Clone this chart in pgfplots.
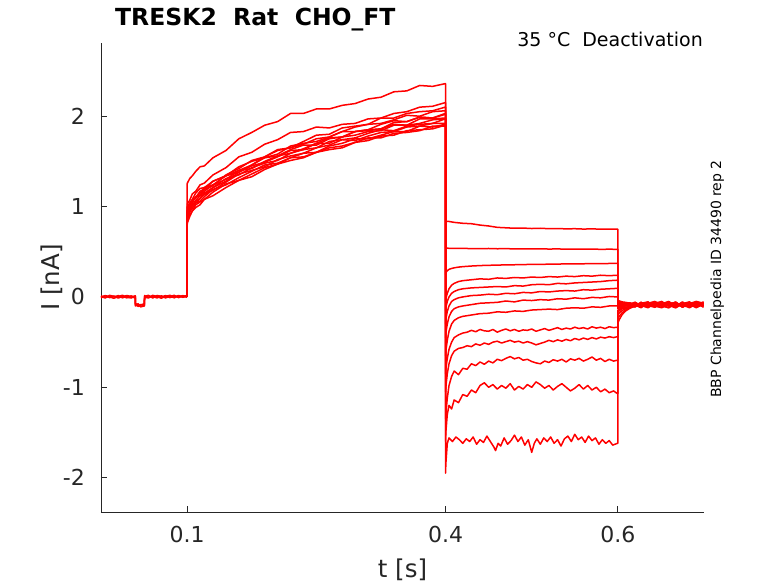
\documentclass[border=0pt]{standalone}
\usepackage{fontspec}
\setmainfont{DejaVu Sans}
\usepackage{pgfplots}
\pgfplotsset{compat=1.18}
\definecolor{axc}{RGB}{38,38,38}
\pgfplotsset{tr/.style={color=red, line width=1.5pt, line join=round, mark=none}}
\begin{document}
\begin{tikzpicture}
\path[use as bounding box] (-101pt,-71pt) rectangle (677pt,512pt);
\begin{axis}[
  at={(0pt,0pt)}, anchor=south west, scale only axis,
  width=603pt, height=469pt,
  xmin=0, xmax=0.7, ymin=-2.38, ymax=2.81,
  axis x line*=bottom, axis y line*=left,
  axis line style={color=axc, line width=0.8pt},
  tick style={color=axc, line width=0.8pt},
  tick align=inside, major tick length=6pt,
  xtick={0.1,0.4,0.6}, xticklabels={0.1,0.4,0.6},
  ytick={-2,-1,0,1,2}, yticklabels={-2,-1,0,1,2},
  minor tick num=0,
  xticklabel style={font=\fontsize{22}{26}\selectfont, text=axc, inner sep=0pt, yshift=-13.7pt},
  yticklabel style={font=\fontsize{22}{26}\selectfont, text=axc, inner sep=0pt, xshift=-16pt},
  xlabel={t [s]}, ylabel={I [nA]},
  xlabel style={font=\fontsize{24.5}{28}\selectfont, text=axc, inner sep=0pt, at={(axis description cs:0.5,-0.1397)}, anchor=base},
  ylabel style={font=\fontsize{24.5}{28}\selectfont, text=axc, inner sep=0pt, at={(axis description cs:-0.0692,0.5)}, anchor=base},
]
% baseline (holding) segments
\addplot[tr] coordinates {(0,0.01)(0.005,-0.005)(0.01,0.012)(0.015,0.0)(0.02,0.015)(0.025,-0.01)(0.03,0.008)(0.035,0.0)(0.0398,0.01)(0.040,-0.08)(0.043,-0.095)(0.046,-0.085)(0.0503,-0.09)(0.0506,0.0)(0.055,0.012)(0.06,-0.005)(0.065,0.01)(0.07,0.0)(0.075,0.015)(0.08,-0.008)(0.085,0.01)(0.09,0.002)(0.095,0.014)(0.1,0.005)};
\addplot[tr] coordinates {(0,-0.01)(0.005,0.012)(0.01,-0.008)(0.015,0.01)(0.02,-0.012)(0.025,0.006)(0.03,-0.01)(0.035,0.012)(0.0398,-0.005)(0.040,-0.1)(0.043,-0.085)(0.046,-0.105)(0.0503,-0.095)(0.0506,-0.01)(0.055,-0.006)(0.06,0.01)(0.065,-0.012)(0.07,0.012)(0.075,-0.006)(0.08,0.01)(0.085,-0.01)(0.09,0.012)(0.095,-0.004)(0.1,0.008)};
\addplot[tr] coordinates {(0,0.0)(0.005,0.015)(0.01,0.0)(0.015,-0.015)(0.02,0.005)(0.025,0.018)(0.03,-0.004)(0.035,-0.012)(0.0398,0.012)(0.040,-0.07)(0.043,-0.105)(0.046,-0.09)(0.0503,-0.075)(0.0506,0.015)(0.055,-0.012)(0.06,0.018)(0.065,0.004)(0.07,-0.014)(0.075,0.006)(0.08,0.018)(0.085,-0.004)(0.09,0.016)(0.095,0.0)(0.1,0.018)};
\addplot[tr] coordinates {(0,0.005)(0.005,-0.012)(0.01,0.018)(0.015,0.006)(0.02,-0.006)(0.025,0.0)(0.03,0.016)(0.035,0.004)(0.0398,-0.012)(0.040,-0.09)(0.043,-0.075)(0.046,-0.11)(0.0503,-0.1)(0.0506,0.005)(0.055,0.018)(0.06,-0.012)(0.065,0.016)(0.07,0.006)(0.075,-0.01)(0.08,0.004)(0.085,0.018)(0.09,-0.008)(0.095,0.01)(0.1,-0.004)};
% sweep 1
\addplot[tr] coordinates {(0.1,0)(0.1,1.25)(0.1003,1.26)(0.103,1.31)(0.106,1.34)(0.11,1.39)(0.115,1.44)(0.12,1.45)(0.13,1.54)(0.145,1.62)(0.16,1.75)(0.175,1.82)(0.19,1.90)(0.205,1.94)(0.22,2.03)(0.235,2.03)(0.25,2.08)(0.265,2.08)(0.28,2.12)(0.295,2.14)(0.31,2.19)(0.325,2.21)(0.34,2.27)(0.355,2.28)(0.37,2.34)(0.385,2.33)(0.3995,2.36)(0.4,2.36)
(0.4,0.84)(0.4003,0.84)(0.402,0.835)(0.404,0.835)(0.407,0.83)(0.41,0.825)(0.415,0.82)(0.42,0.815)(0.43,0.81)(0.44,0.795)(0.45,0.785)(0.46,0.77)(0.47,0.765)(0.48,0.76)(0.49,0.762)(0.50,0.757)(0.51,0.76)(0.52,0.755)(0.53,0.757)(0.54,0.753)(0.55,0.755)(0.56,0.751)(0.57,0.753)(0.58,0.75)(0.59,0.749)(0.5995,0.75)(0.6,0.75)
(0.6,-0.04)(0.6003,-0.04)(0.602,-0.045)(0.605,-0.055)(0.609,-0.06)(0.614,-0.07)(0.62,-0.1)(0.627,-0.06)(0.635,-0.11)(0.643,-0.07)(0.651,-0.05)(0.659,-0.1)(0.667,-0.065)(0.675,-0.11)(0.683,-0.06)(0.691,-0.09)(0.6995,-0.055)};
% sweep 2
\addplot[tr] coordinates {(0.1,0)(0.1,0.98)(0.1003,1.03)(0.103,1.07)(0.106,1.14)(0.11,1.17)(0.115,1.24)(0.12,1.26)(0.13,1.35)(0.145,1.43)(0.16,1.55)(0.175,1.60)(0.19,1.69)(0.205,1.74)(0.22,1.82)(0.235,1.83)(0.25,1.88)(0.265,1.87)(0.28,1.91)(0.295,1.92)(0.31,1.97)(0.325,1.98)(0.34,2.03)(0.355,2.05)(0.37,2.10)(0.385,2.11)(0.3995,2.15)(0.4,2.15)
(0.4,0.545)(0.4003,0.54)(0.402,0.54)(0.404,0.538)(0.407,0.538)(0.41,0.537)(0.415,0.536)(0.42,0.537)(0.43,0.535)(0.44,0.534)(0.45,0.536)(0.46,0.533)(0.47,0.534)(0.48,0.532)(0.49,0.533)(0.50,0.531)(0.51,0.532)(0.52,0.53)(0.53,0.531)(0.54,0.529)(0.55,0.53)(0.56,0.528)(0.57,0.529)(0.58,0.527)(0.59,0.528)(0.5995,0.527)(0.6,0.527)
(0.6,-0.05)(0.6003,-0.05)(0.602,-0.06)(0.605,-0.06)(0.609,-0.075)(0.614,-0.065)(0.62,-0.09)(0.627,-0.12)(0.635,-0.06)(0.643,-0.1)(0.651,-0.075)(0.659,-0.05)(0.667,-0.1)(0.675,-0.06)(0.683,-0.11)(0.691,-0.07)(0.6995,-0.085)};
% sweep 3
\addplot[tr] coordinates {(0.1,0)(0.1,0.90)(0.1003,0.95)(0.103,0.99)(0.106,1.07)(0.11,1.10)(0.115,1.13)(0.12,1.19)(0.13,1.23)(0.145,1.35)(0.16,1.42)(0.175,1.51)(0.19,1.55)(0.205,1.63)(0.22,1.65)(0.235,1.72)(0.25,1.79)(0.265,1.80)(0.28,1.87)(0.295,1.89)(0.31,1.91)(0.325,1.98)(0.34,1.98)(0.355,2.03)(0.37,2.05)(0.385,2.06)(0.3995,2.10)(0.4,2.10)
(0.4,0.25)(0.4003,0.27)(0.402,0.29)(0.404,0.305)(0.407,0.315)(0.41,0.322)(0.415,0.33)(0.42,0.335)(0.43,0.342)(0.44,0.347)(0.45,0.35)(0.46,0.352)(0.47,0.355)(0.48,0.356)(0.49,0.358)(0.50,0.36)(0.51,0.361)(0.52,0.362)(0.53,0.364)(0.54,0.365)(0.55,0.366)(0.56,0.367)(0.57,0.368)(0.58,0.369)(0.59,0.37)(0.5995,0.37)(0.6,0.37)
(0.6,-0.06)(0.6003,-0.06)(0.602,-0.065)(0.605,-0.07)(0.609,-0.08)(0.614,-0.1)(0.62,-0.06)(0.627,-0.095)(0.635,-0.12)(0.643,-0.07)(0.651,-0.1)(0.659,-0.06)(0.667,-0.115)(0.675,-0.075)(0.683,-0.055)(0.691,-0.1)(0.6995,-0.08)};
% sweep 4
\addplot[tr] coordinates {(0.1,0)(0.1,0.92)(0.1003,0.95)(0.103,1.03)(0.106,1.07)(0.11,1.10)(0.115,1.17)(0.12,1.19)(0.13,1.28)(0.145,1.34)(0.16,1.40)(0.175,1.46)(0.19,1.55)(0.205,1.62)(0.22,1.65)(0.235,1.69)(0.25,1.75)(0.265,1.77)(0.28,1.83)(0.295,1.88)(0.31,1.91)(0.325,1.92)(0.34,1.96)(0.355,2.01)(0.37,2.00)(0.385,2.05)(0.3995,2.06)(0.4,2.06)
(0.4,-0.05)(0.4003,-0.02)(0.402,0.04)(0.404,0.09)(0.407,0.13)(0.41,0.15)(0.415,0.17)(0.42,0.18)(0.43,0.19)(0.44,0.20)(0.45,0.195)(0.46,0.21)(0.47,0.205)(0.48,0.215)(0.49,0.21)(0.50,0.22)(0.51,0.215)(0.52,0.225)(0.53,0.22)(0.54,0.23)(0.55,0.225)(0.56,0.235)(0.57,0.23)(0.58,0.24)(0.59,0.235)(0.5995,0.24)(0.6,0.24)
(0.6,-0.07)(0.6003,-0.07)(0.602,-0.075)(0.605,-0.08)(0.609,-0.085)(0.614,-0.09)(0.62,-0.11)(0.627,-0.07)(0.635,-0.055)(0.643,-0.1)(0.651,-0.12)(0.659,-0.08)(0.667,-0.06)(0.675,-0.11)(0.683,-0.075)(0.691,-0.05)(0.6995,-0.07)};
% sweep 5
\addplot[tr] coordinates {(0.1,0)(0.1,0.94)(0.1003,0.99)(0.103,1.04)(0.106,1.08)(0.11,1.15)(0.115,1.20)(0.12,1.21)(0.13,1.28)(0.145,1.34)(0.16,1.44)(0.175,1.50)(0.19,1.54)(0.205,1.58)(0.22,1.67)(0.235,1.70)(0.25,1.72)(0.265,1.77)(0.28,1.83)(0.295,1.83)(0.31,1.85)(0.325,1.91)(0.34,1.95)(0.355,1.94)(0.37,1.99)(0.385,1.98)(0.3995,2.03)(0.4,2.03)
(0.4,-0.15)(0.4003,-0.12)(0.402,-0.05)(0.404,0.0)(0.407,0.04)(0.41,0.06)(0.415,0.08)(0.42,0.09)(0.43,0.10)(0.44,0.105)(0.45,0.11)(0.46,0.115)(0.47,0.11)(0.48,0.125)(0.49,0.12)(0.50,0.135)(0.51,0.14)(0.52,0.135)(0.53,0.15)(0.54,0.145)(0.55,0.155)(0.56,0.16)(0.57,0.165)(0.58,0.17)(0.59,0.18)(0.5995,0.185)(0.6,0.185)
(0.6,-0.08)(0.6003,-0.08)(0.602,-0.085)(0.605,-0.08)(0.609,-0.095)(0.614,-0.075)(0.62,-0.06)(0.627,-0.1)(0.635,-0.07)(0.643,-0.05)(0.651,-0.09)(0.659,-0.12)(0.667,-0.07)(0.675,-0.1)(0.683,-0.06)(0.691,-0.115)(0.6995,-0.085)};
% sweep 6
\addplot[tr] coordinates {(0.1,0)(0.1,0.91)(0.1003,0.94)(0.103,1.01)(0.106,1.07)(0.11,1.10)(0.115,1.15)(0.12,1.21)(0.13,1.24)(0.145,1.34)(0.16,1.38)(0.175,1.46)(0.19,1.54)(0.205,1.56)(0.22,1.63)(0.235,1.68)(0.25,1.68)(0.265,1.75)(0.28,1.77)(0.295,1.83)(0.31,1.84)(0.325,1.86)(0.34,1.91)(0.355,1.90)(0.37,1.97)(0.385,1.97)(0.3995,1.98)(0.4,1.98)
(0.4,-0.3)(0.4003,-0.25)(0.402,-0.16)(0.404,-0.1)(0.407,-0.05)(0.41,-0.03)(0.415,-0.01)(0.42,0.0)(0.43,0.015)(0.44,0.02)(0.45,0.03)(0.46,0.025)(0.47,0.04)(0.48,0.035)(0.49,0.05)(0.50,0.045)(0.51,0.06)(0.52,0.055)(0.53,0.065)(0.54,0.07)(0.55,0.065)(0.56,0.08)(0.57,0.075)(0.58,0.085)(0.59,0.09)(0.5995,0.095)(0.6,0.095)
(0.6,-0.1)(0.6003,-0.1)(0.602,-0.095)(0.605,-0.09)(0.609,-0.1)(0.614,-0.075)(0.62,-0.1)(0.627,-0.06)(0.635,-0.095)(0.643,-0.115)(0.651,-0.06)(0.659,-0.09)(0.667,-0.105)(0.675,-0.055)(0.683,-0.11)(0.691,-0.08)(0.6995,-0.06)};
% sweep 7
\addplot[tr] coordinates {(0.1,0)(0.1,0.89)(0.1003,0.94)(0.103,0.98)(0.106,1.04)(0.11,1.11)(0.115,1.12)(0.12,1.17)(0.13,1.24)(0.145,1.30)(0.16,1.40)(0.175,1.42)(0.19,1.50)(0.205,1.56)(0.22,1.59)(0.235,1.64)(0.25,1.70)(0.265,1.70)(0.28,1.77)(0.295,1.79)(0.31,1.83)(0.325,1.84)(0.34,1.90)(0.355,1.90)(0.37,1.92)(0.385,1.96)(0.3995,1.97)(0.4,1.97)
(0.4,-0.45)(0.4003,-0.4)(0.402,-0.3)(0.404,-0.22)(0.407,-0.16)(0.41,-0.13)(0.415,-0.11)(0.42,-0.10)(0.43,-0.085)(0.44,-0.07)(0.45,-0.065)(0.46,-0.06)(0.47,-0.045)(0.48,-0.055)(0.49,-0.035)(0.50,-0.04)(0.51,-0.03)(0.52,-0.035)(0.53,-0.02)(0.54,-0.025)(0.55,-0.01)(0.56,-0.02)(0.57,-0.005)(0.58,-0.01)(0.59,0.005)(0.5995,0.0)(0.6,0.0)
(0.6,-0.11)(0.6003,-0.11)(0.602,-0.105)(0.605,-0.1)(0.609,-0.09)(0.614,-0.1)(0.62,-0.07)(0.627,-0.11)(0.635,-0.08)(0.643,-0.06)(0.651,-0.1)(0.659,-0.07)(0.667,-0.12)(0.675,-0.08)(0.683,-0.095)(0.691,-0.055)(0.6995,-0.1)};
% sweep 8
\addplot[tr] coordinates {(0.1,0)(0.1,0.87)(0.1003,0.91)(0.103,0.98)(0.106,1.01)(0.11,1.07)(0.115,1.12)(0.12,1.13)(0.13,1.21)(0.145,1.31)(0.16,1.35)(0.175,1.43)(0.19,1.48)(0.205,1.51)(0.22,1.59)(0.235,1.63)(0.25,1.65)(0.265,1.72)(0.28,1.74)(0.295,1.76)(0.31,1.81)(0.325,1.85)(0.34,1.84)(0.355,1.89)(0.37,1.91)(0.385,1.92)(0.3995,1.97)(0.4,1.97)
(0.4,-0.65)(0.4003,-0.6)(0.402,-0.48)(0.404,-0.38)(0.407,-0.3)(0.41,-0.26)(0.415,-0.23)(0.42,-0.215)(0.43,-0.2)(0.44,-0.185)(0.45,-0.18)(0.46,-0.165)(0.47,-0.17)(0.48,-0.155)(0.49,-0.16)(0.50,-0.145)(0.51,-0.14)(0.52,-0.135)(0.53,-0.14)(0.54,-0.125)(0.55,-0.12)(0.56,-0.125)(0.57,-0.11)(0.58,-0.115)(0.59,-0.1)(0.5995,-0.1)(0.6,-0.1)
(0.6,-0.13)(0.6003,-0.13)(0.602,-0.12)(0.605,-0.11)(0.609,-0.1)(0.614,-0.085)(0.62,-0.11)(0.627,-0.075)(0.635,-0.06)(0.643,-0.105)(0.651,-0.07)(0.659,-0.1)(0.667,-0.055)(0.675,-0.11)(0.683,-0.08)(0.691,-0.12)(0.6995,-0.07)};
% sweep 9
\addplot[tr] coordinates {(0.1,0)(0.1,0.85)(0.1003,0.90)(0.103,0.95)(0.106,1.01)(0.11,1.04)(0.115,1.09)(0.12,1.14)(0.13,1.18)(0.145,1.27)(0.16,1.36)(0.175,1.40)(0.19,1.44)(0.205,1.52)(0.22,1.56)(0.235,1.59)(0.25,1.65)(0.265,1.68)(0.28,1.74)(0.295,1.73)(0.31,1.78)(0.325,1.82)(0.34,1.83)(0.355,1.88)(0.37,1.89)(0.385,1.92)(0.3995,1.92)(0.4,1.92)
(0.4,-0.85)(0.4003,-0.8)(0.402,-0.68)(0.404,-0.58)(0.407,-0.5)(0.41,-0.45)(0.415,-0.42)(0.42,-0.40)(0.425,-0.39)(0.43,-0.37)(0.435,-0.385)(0.44,-0.36)(0.445,-0.375)(0.45,-0.38)(0.455,-0.36)(0.46,-0.39)(0.465,-0.37)(0.47,-0.355)(0.475,-0.375)(0.48,-0.36)(0.485,-0.38)(0.49,-0.365)(0.495,-0.37)(0.50,-0.355)(0.505,-0.38)(0.51,-0.365)(0.515,-0.35)(0.52,-0.37)(0.525,-0.355)(0.53,-0.34)(0.535,-0.36)(0.54,-0.345)(0.545,-0.355)(0.55,-0.335)(0.555,-0.35)(0.56,-0.34)(0.565,-0.355)(0.57,-0.33)(0.575,-0.345)(0.58,-0.335)(0.585,-0.35)(0.59,-0.33)(0.595,-0.34)(0.5995,-0.335)(0.6,-0.335)
(0.6,-0.15)(0.6003,-0.145)(0.602,-0.135)(0.605,-0.12)(0.609,-0.115)(0.614,-0.1)(0.62,-0.075)(0.627,-0.105)(0.635,-0.065)(0.643,-0.1)(0.651,-0.115)(0.659,-0.06)(0.667,-0.09)(0.675,-0.07)(0.683,-0.12)(0.691,-0.08)(0.6995,-0.1)};
% sweep 10
\addplot[tr] coordinates {(0.1,0)(0.1,0.83)(0.1003,0.86)(0.103,0.94)(0.106,0.98)(0.11,1.04)(0.115,1.06)(0.12,1.11)(0.13,1.19)(0.145,1.24)(0.16,1.32)(0.175,1.39)(0.19,1.46)(0.205,1.48)(0.22,1.54)(0.235,1.59)(0.25,1.60)(0.265,1.67)(0.28,1.70)(0.295,1.75)(0.31,1.75)(0.325,1.79)(0.34,1.83)(0.355,1.83)(0.37,1.89)(0.385,1.88)(0.3995,1.91)(0.4,1.91)
(0.4,-1.05)(0.4003,-1.0)(0.402,-0.85)(0.404,-0.74)(0.407,-0.65)(0.41,-0.6)(0.415,-0.57)(0.42,-0.56)(0.425,-0.54)(0.43,-0.55)(0.435,-0.52)(0.44,-0.535)(0.445,-0.51)(0.45,-0.525)(0.455,-0.5)(0.46,-0.49)(0.465,-0.51)(0.47,-0.495)(0.475,-0.48)(0.48,-0.5)(0.485,-0.49)(0.49,-0.51)(0.495,-0.495)(0.50,-0.51)(0.505,-0.53)(0.51,-0.515)(0.515,-0.5)(0.52,-0.48)(0.525,-0.495)(0.53,-0.475)(0.535,-0.49)(0.54,-0.47)(0.545,-0.485)(0.55,-0.46)(0.555,-0.475)(0.56,-0.455)(0.565,-0.47)(0.57,-0.45)(0.575,-0.465)(0.58,-0.445)(0.585,-0.455)(0.59,-0.44)(0.595,-0.45)(0.5995,-0.44)(0.6,-0.44)
(0.6,-0.17)(0.6003,-0.165)(0.602,-0.15)(0.605,-0.13)(0.609,-0.12)(0.614,-0.1)(0.62,-0.1)(0.627,-0.07)(0.635,-0.105)(0.643,-0.08)(0.651,-0.1)(0.659,-0.12)(0.667,-0.065)(0.675,-0.1)(0.683,-0.06)(0.691,-0.11)(0.6995,-0.07)};
% sweep 11
\addplot[tr] coordinates {(0.1,0)(0.1,0.81)(0.1003,0.86)(0.103,0.91)(0.106,0.95)(0.11,1.02)(0.115,1.05)(0.12,1.08)(0.13,1.16)(0.145,1.25)(0.16,1.29)(0.175,1.36)(0.19,1.43)(0.205,1.47)(0.22,1.54)(0.235,1.55)(0.25,1.60)(0.265,1.65)(0.28,1.67)(0.295,1.71)(0.31,1.76)(0.325,1.76)(0.34,1.81)(0.355,1.82)(0.37,1.84)(0.385,1.89)(0.3995,1.89)(0.4,1.89)
(0.4,-1.35)(0.4003,-1.3)(0.402,-1.12)(0.404,-0.98)(0.407,-0.88)(0.41,-0.82)(0.415,-0.86)(0.42,-0.79)(0.425,-0.8)(0.43,-0.74)(0.435,-0.76)(0.44,-0.72)(0.445,-0.745)(0.45,-0.71)(0.455,-0.73)(0.46,-0.69)(0.465,-0.705)(0.47,-0.68)(0.475,-0.66)(0.48,-0.685)(0.485,-0.67)(0.49,-0.7)(0.495,-0.69)(0.50,-0.715)(0.505,-0.73)(0.51,-0.74)(0.515,-0.71)(0.52,-0.725)(0.525,-0.695)(0.53,-0.71)(0.535,-0.69)(0.54,-0.72)(0.545,-0.685)(0.55,-0.7)(0.555,-0.68)(0.56,-0.71)(0.565,-0.69)(0.57,-0.665)(0.575,-0.7)(0.58,-0.68)(0.585,-0.715)(0.59,-0.69)(0.595,-0.71)(0.5995,-0.7)(0.6,-0.7)
(0.6,-0.2)(0.6003,-0.195)(0.602,-0.175)(0.605,-0.15)(0.609,-0.13)(0.614,-0.115)(0.62,-0.085)(0.627,-0.11)(0.635,-0.075)(0.643,-0.105)(0.651,-0.06)(0.659,-0.095)(0.667,-0.12)(0.675,-0.07)(0.683,-0.1)(0.691,-0.065)(0.6995,-0.115)};
% sweep 12
\addplot[tr] coordinates {(0.1,0)(0.1,0.86)(0.1003,0.91)(0.103,0.95)(0.106,1.02)(0.11,1.06)(0.115,1.09)(0.12,1.15)(0.13,1.21)(0.145,1.28)(0.16,1.38)(0.175,1.45)(0.19,1.49)(0.205,1.55)(0.22,1.62)(0.235,1.63)(0.25,1.70)(0.265,1.76)(0.28,1.77)(0.295,1.83)(0.31,1.85)(0.325,1.86)(0.34,1.93)(0.355,1.94)(0.37,1.99)(0.385,1.98)(0.3995,2.02)(0.4,2.02)
(0.4,-1.6)(0.4003,-1.5)(0.402,-1.3)(0.404,-1.2)(0.407,-1.24)(0.41,-1.14)(0.415,-1.17)(0.42,-1.08)(0.425,-1.1)(0.43,-1.03)(0.435,-1.06)(0.44,-0.98)(0.445,-0.95)(0.45,-1.0)(0.455,-0.97)(0.46,-1.02)(0.465,-0.98)(0.47,-1.01)(0.475,-0.96)(0.48,-1.03)(0.485,-0.99)(0.49,-1.02)(0.495,-0.97)(0.50,-1.0)(0.505,-0.94)(0.51,-0.97)(0.515,-1.01)(0.52,-0.98)(0.525,-1.03)(0.53,-0.99)(0.535,-0.96)(0.54,-1.0)(0.545,-1.04)(0.55,-1.01)(0.555,-0.97)(0.56,-1.02)(0.565,-0.98)(0.57,-1.03)(0.575,-1.0)(0.58,-1.05)(0.585,-1.02)(0.59,-1.06)(0.595,-1.04)(0.5995,-1.07)(0.6,-1.07)
(0.6,-0.24)(0.6003,-0.235)(0.602,-0.21)(0.605,-0.175)(0.609,-0.145)(0.614,-0.12)(0.62,-0.105)(0.627,-0.08)(0.635,-0.11)(0.643,-0.065)(0.651,-0.1)(0.659,-0.08)(0.667,-0.06)(0.675,-0.115)(0.683,-0.075)(0.691,-0.1)(0.6995,-0.065)};
% sweep 13
\addplot[tr] coordinates {(0.1,0)(0.1,0.79)(0.1003,0.82)(0.103,0.89)(0.106,0.95)(0.11,0.99)(0.115,1.02)(0.12,1.08)(0.13,1.12)(0.145,1.21)(0.16,1.29)(0.175,1.33)(0.19,1.41)(0.205,1.47)(0.22,1.51)(0.235,1.54)(0.25,1.60)(0.265,1.63)(0.28,1.65)(0.295,1.71)(0.31,1.73)(0.325,1.78)(0.34,1.79)(0.355,1.84)(0.37,1.85)(0.385,1.86)(0.3995,1.90)(0.4,1.90)
(0.4,-1.95)(0.4003,-1.85)(0.402,-1.62)(0.404,-1.56)(0.408,-1.6)(0.412,-1.55)(0.416,-1.58)(0.42,-1.62)(0.424,-1.57)(0.428,-1.6)(0.432,-1.55)(0.436,-1.63)(0.44,-1.58)(0.444,-1.61)(0.448,-1.54)(0.452,-1.6)(0.456,-1.66)(0.458,-1.7)(0.461,-1.62)(0.464,-1.65)(0.468,-1.56)(0.472,-1.63)(0.476,-1.59)(0.48,-1.53)(0.484,-1.6)(0.488,-1.55)(0.492,-1.64)(0.496,-1.58)(0.5,-1.72)(0.503,-1.62)(0.506,-1.57)(0.51,-1.63)(0.514,-1.56)(0.518,-1.6)(0.522,-1.55)(0.526,-1.62)(0.53,-1.58)(0.534,-1.65)(0.538,-1.57)(0.542,-1.54)(0.546,-1.6)(0.55,-1.52)(0.554,-1.58)(0.558,-1.55)(0.562,-1.61)(0.566,-1.54)(0.57,-1.59)(0.574,-1.56)(0.578,-1.63)(0.582,-1.58)(0.586,-1.62)(0.59,-1.59)(0.594,-1.64)(0.5995,-1.62)(0.6,-1.62)
(0.6,-0.29)(0.6003,-0.28)(0.602,-0.245)(0.605,-0.195)(0.609,-0.155)(0.614,-0.125)(0.62,-0.1)(0.627,-0.105)(0.635,-0.07)(0.643,-0.11)(0.651,-0.08)(0.659,-0.1)(0.667,-0.065)(0.675,-0.095)(0.683,-0.115)(0.691,-0.06)(0.6995,-0.1)};
\end{axis}
\node[anchor=base west, inner sep=0pt, text=black, font=\fontsize{23.5}{28}\selectfont\bfseries] at (14pt,486pt) {TRESK2~~Rat~~CHO\_FT};
\node[anchor=base east, inner sep=0pt, text=black, font=\fontsize{19}{23}\selectfont] at (602pt,465pt) {35~°C~~Deactivation};
\node[anchor=base west, inner sep=0pt, rotate=90, text=black, font=\fontsize{14}{17}\selectfont] at (620pt,114pt) {BBP Channelpedia ID 34490 rep 2};
\end{tikzpicture}
\end{document}
